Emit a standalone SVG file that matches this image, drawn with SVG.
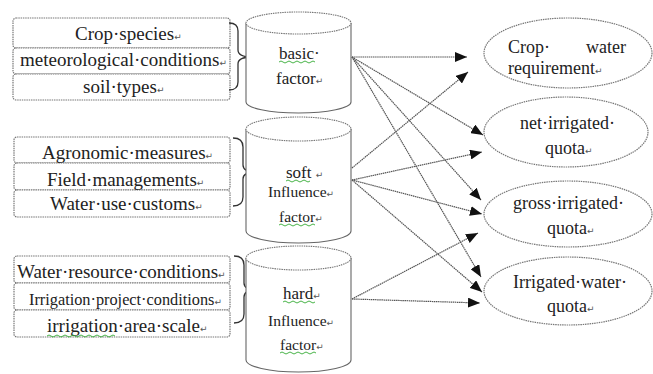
<svg xmlns="http://www.w3.org/2000/svg" width="653" height="374" viewBox="0 0 653 374">
<defs>
<marker id="arr" viewBox="0 0 12 10" refX="12" refY="5" markerWidth="12" markerHeight="10" markerUnits="userSpaceOnUse" orient="auto">
<path d="M0,0 L12,5 L0,10 Z" fill="#111"/>
</marker>
<style>
.box{fill:#fff;stroke:#777;stroke-width:1.2;stroke-dasharray:1.5 0.8}
.cyl{fill:#fff;stroke:#666;stroke-width:1.1}
.cyltop{fill:#fff;stroke:#777;stroke-width:1.1;stroke-dasharray:1.5 0.8}
.ell{fill:#fff;stroke:#777;stroke-width:1.2;stroke-dasharray:1.5 0.8}
.brace{fill:none;stroke:#333;stroke-width:1.3}
.t{font-family:"Liberation Serif","Times New Roman",serif;font-size:19px;fill:#222}
.c{font-size:17px}
.e{font-size:18px}
.r{font-family:"DejaVu Sans",sans-serif;font-size:9px;fill:#555}
.con{stroke:#555;stroke-width:1.2;stroke-dasharray:1.5 0.6;fill:none}
.sq{fill:none;stroke:#3a3;stroke-width:0.9}
</style>
</defs>
<rect width="653" height="374" fill="#fff"/>

<g id="group-basic-inputs">
<rect class="box" x="13" y="18" width="217" height="30" rx="3"/>
<rect class="box" x="13" y="48" width="217" height="26" rx="3"/>
<rect class="box" x="13" y="74" width="217" height="26" rx="3"/>
<text class="t" x="75" y="40">Crop·species<tspan class="r">↵</tspan></text>
<text class="t" x="20" y="66">meteorological·conditions<tspan class="r">↵</tspan></text>
<text class="t" x="83" y="93">soil·types<tspan class="r">↵</tspan></text>
<path class="brace" d="M229,23 Q238,23 238,31 L238,50 Q238,57 252,57 Q238,57 238,64 L238,82 Q238,90 229,90"/>
</g>

<g id="group-soft-inputs">
<rect class="box" x="14" y="137" width="216" height="26" rx="3"/>
<rect class="box" x="14" y="163" width="216" height="27" rx="3"/>
<rect class="box" x="14" y="190" width="216" height="27" rx="3"/>
<text class="t" x="42" y="159">Agronomic·measures<tspan class="r">↵</tspan></text>
<text class="t" x="47" y="186">Field·managements<tspan class="r">↵</tspan></text>
<text class="t" x="50" y="210">Water·use·customs<tspan class="r">↵</tspan></text>
<path class="brace" d="M233,138 Q243,138 243,147 L243,165 Q243,172 256,172 Q243,172 243,179 L243,197 Q243,206 233,206"/>
</g>

<g id="group-hard-inputs">
<rect class="box" x="14" y="256" width="216" height="27" rx="3"/>
<rect class="box" x="14" y="283" width="216" height="27" rx="3"/>
<rect class="box" x="14" y="310" width="216" height="27" rx="3"/>
<text class="t" x="17" y="278">Water·resource·conditions<tspan class="r">↵</tspan></text>
<text class="t" x="29" y="305" style="font-size:16.3px">Irrigation·project·conditions<tspan class="r">↵</tspan></text>
<text class="t" x="47" y="332">irrigation·area·scale<tspan class="r">↵</tspan></text>
<path class="sq" d="M47,336 q2,-2 4,0 t4,0 t4,0 t4,0 t4,0 t4,0 t4,0 t4,0 t4,0 t4,0 t4,0 t4,0 t4,0 t4,0 t4,0 t4,0 t4,0"/>
<path class="brace" d="M234,256 Q244,256 244,265 L244,283 Q244,290 257,290 Q244,290 244,297 L244,314 Q244,323 234,323"/>
</g>

<g id="cyl-basic">
<path class="cyl" d="M246,23 L246,102 A52.5,11 0 0 0 351,102 L351,23"/>
<ellipse class="cyltop" cx="298.5" cy="23" rx="52.5" ry="11"/>
<text class="t c" x="279" y="59">basic·</text>
<text class="t c" x="276" y="84">factor<tspan class="r">↵</tspan></text>
<path class="sq" d="M279,62 q2,-2 4,0 t4,0 t4,0 t4,0 t4,0 t4,0 t4,0 t4,0 t4,0"/>
</g>

<g id="cyl-soft">
<path class="cyl" d="M246,129 L246,231 A52.5,12 0 0 0 351,231 L351,129"/>
<ellipse class="cyltop" cx="298.5" cy="129" rx="52.5" ry="12"/>
<text class="t c" x="286" y="178">soft <tspan class="r">↵</tspan></text>
<text class="t c" x="268" y="197" style="font-size:15.5px">Influence<tspan class="r">↵</tspan></text>
<text class="t c" x="279" y="222" style="font-size:15.5px">factor<tspan class="r">↵</tspan></text>
<path class="sq" d="M286,181 q2,-2 4,0 t4,0 t4,0 t4,0 t4,0 t4,0"/>
<path class="sq" d="M279,225 q2,-2 4,0 t4,0 t4,0 t4,0 t4,0 t4,0 t4,0 t4,0 t4,0"/>
</g>

<g id="cyl-hard">
<path class="cyl" d="M246,258 L246,360 A52.5,12 0 0 0 351,360 L351,258"/>
<ellipse class="cyltop" cx="298.5" cy="258" rx="52.5" ry="12"/>
<text class="t c" x="283" y="299">hard<tspan class="r">↵</tspan></text>
<text class="t c" x="268" y="326" style="font-size:15.5px">Influence<tspan class="r">↵</tspan></text>
<text class="t c" x="280" y="350" style="font-size:15.5px">factor<tspan class="r">↵</tspan></text>
<path class="sq" d="M283,302 q2,-2 4,0 t4,0 t4,0 t4,0 t4,0 t4,0 t4,0 t4,0"/>
<path class="sq" d="M280,353 q2,-2 4,0 t4,0 t4,0 t4,0 t4,0 t4,0 t4,0 t4,0 t4,0"/>
</g>

<g id="out-crop-water">
<ellipse class="ell" cx="568" cy="53" rx="84" ry="35"/>
<text class="t e" x="508" y="53">Crop·</text>
<text class="t e" x="626" y="53" style="text-anchor:end">water</text>
<text class="t e" x="508" y="74">requirement<tspan class="r">↵</tspan></text>
</g>

<g id="out-net">
<ellipse class="ell" cx="566" cy="132" rx="82" ry="35"/>
<text class="t e" x="520" y="129">net·irrigated·</text>
<text class="t e" x="545" y="154">quota<tspan class="r">↵</tspan></text>
</g>

<g id="out-gross">
<ellipse class="ell" cx="568" cy="214" rx="84" ry="33"/>
<text class="t e" x="513" y="209">gross·irrigated·</text>
<text class="t e" x="547" y="234">quota<tspan class="r">↵</tspan></text>
</g>

<g id="out-irrigated-water">
<ellipse class="ell" cx="568" cy="291" rx="84" ry="34"/>
<text class="t e" x="513" y="288">Irrigated·water·</text>
<text class="t e" x="547" y="312">quota<tspan class="r">↵</tspan></text>
</g>

<g id="connectors">
<line class="con" x1="352" y1="57" x2="467" y2="57" marker-end="url(#arr)"/>
<line class="con" x1="352" y1="57" x2="483" y2="135" marker-end="url(#arr)"/>
<line class="con" x1="352" y1="57" x2="481" y2="200" marker-end="url(#arr)"/>
<line class="con" x1="352" y1="57" x2="481" y2="277" marker-end="url(#arr)"/>
<line class="con" x1="352" y1="168" x2="468" y2="72" marker-end="url(#arr)"/>
<line class="con" x1="352" y1="180" x2="482" y2="152" marker-end="url(#arr)"/>
<line class="con" x1="352" y1="180" x2="482" y2="214" marker-end="url(#arr)"/>
<line class="con" x1="352" y1="180" x2="482" y2="292" marker-end="url(#arr)"/>
<line class="con" x1="352" y1="299" x2="478" y2="233" marker-end="url(#arr)"/>
<line class="con" x1="352" y1="299" x2="480" y2="303" marker-end="url(#arr)"/>
</g>
</svg>
